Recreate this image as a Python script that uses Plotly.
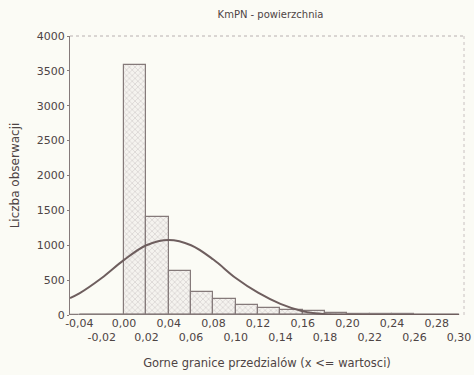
import plotly.graph_objects as go

# Histogram: bin upper bounds and counts
bin_upper = [-0.04, -0.02, 0.00, 0.02, 0.04, 0.06, 0.08, 0.10, 0.12,
             0.14, 0.16, 0.18, 0.20, 0.22, 0.24, 0.26, 0.28, 0.30]
counts = [0, 0, 0, 3580, 1410, 635, 335, 225, 145,
          105, 72, 55, 35, 20, 12, 8, 5, 3]
bin_width = 0.02

# Fitted normal curve
curve_x = [-0.0484, -0.04, -0.02, 0.00, 0.02, 0.04, 0.06, 0.08, 0.10,
           0.12, 0.14, 0.16, 0.18, 0.20, 0.22, 0.24, 0.26, 0.28, 0.30]
curve_y = [244, 310, 530, 790, 1000, 1075, 1000, 795, 530,
           320, 160, 55, 12, 3, 1, 0, 0, 0, 0]

tick_text = [f"{v:.2f}".replace(".", ",") for v in bin_upper]
tick_text = [t if i % 2 == 0 else " <br>" + t for i, t in enumerate(tick_text)]

y_ticks = [0, 500, 1000, 1500, 2000, 2500, 3000, 3500, 4000]

FONT = "DejaVu Sans"
TXT = "#4e4444"
LINE = "#857a7a"
BG = "#fbfbf5"

fig = go.Figure()
fig.add_trace(go.Bar(
    x=bin_upper, y=counts, width=bin_width, offset=-bin_width,
    marker=dict(color="#ece9e4",
                line=dict(color=LINE, width=1.2),
                pattern=dict(shape="x", size=4, solidity=0.3,
                             fgcolor="#b0a8a8", bgcolor="#f5f3ef")),
    showlegend=False, hoverinfo="skip"))
fig.add_trace(go.Scatter(
    x=[bin_upper[0], bin_upper[-1]], y=[0, 0], mode="lines",
    line=dict(color=LINE, width=3), showlegend=False, hoverinfo="skip"))
fig.add_trace(go.Scatter(
    x=curve_x, y=curve_y, mode="lines", line_shape="spline",
    line=dict(color="#6e5e5e", width=2), showlegend=False, hoverinfo="skip"))

fig.update_layout(
    width=474, height=375,
    margin=dict(l=70, r=3, t=36, b=60),
    paper_bgcolor=BG, plot_bgcolor=BG,
    font=dict(family=FONT, size=11, color=TXT),
    bargap=0,
    title=dict(text="KmPN - powierzchnia", x=(70 + 471) / 2 / 474, xanchor="center",
               y=1 - 14 / 375, yanchor="middle", yref="container",
               font=dict(size=10, color=TXT)),
    xaxis=dict(range=[-0.0484, 0.3044], tickvals=bin_upper, ticktext=tick_text,
               tickangle=0, ticklabeloverflow="allow",
               showgrid=False, zeroline=False, showline=False, ticks="",
               tickfont=dict(size=11),
               title=dict(text="Gorne granice przedzialów (x <= wartosci)",
                          standoff=15, font=dict(size=11.5))),
    yaxis=dict(range=[0, 4000], tickvals=y_ticks, showgrid=False, zeroline=False,
               showline=True, linecolor=LINE, linewidth=1, ticks="outside",
               ticklen=2, tickcolor=LINE, tickfont=dict(size=11),
               title=dict(text="Liczba obserwacji", standoff=14, font=dict(size=12))),
    shapes=[
        dict(type="line", xref="paper", yref="paper", x0=0, x1=1, y0=1, y1=1,
             line=dict(color="#b8b0b0", width=1, dash="dot")),
        dict(type="line", xref="paper", yref="paper", x0=1, x1=1, y0=0, y1=1,
             line=dict(color="#c8c0c0", width=1, dash="dot")),
    ],
)

fig.write_html("out.html")
